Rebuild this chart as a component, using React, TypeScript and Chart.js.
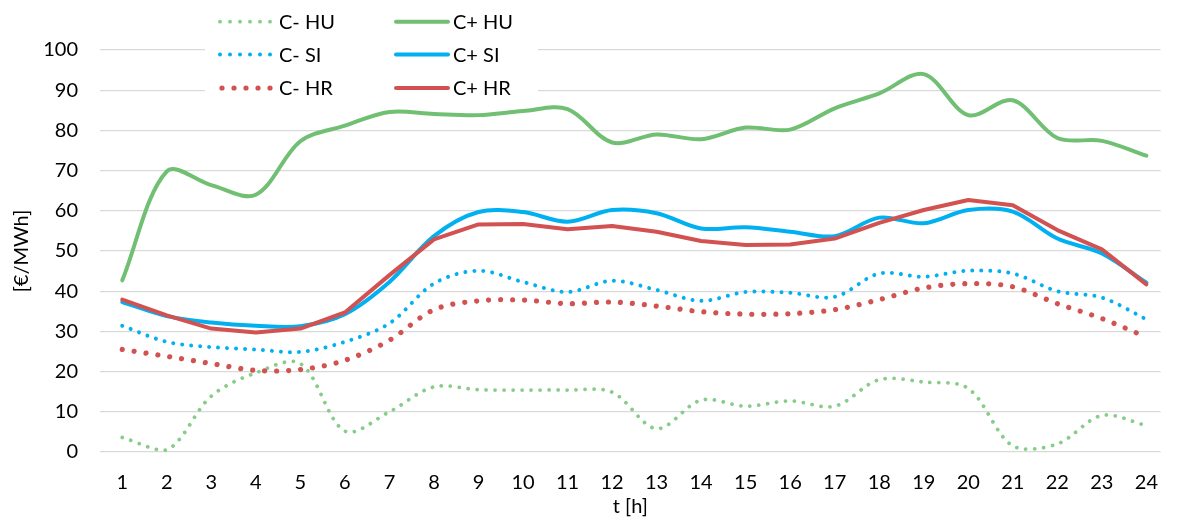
import React, { useEffect, useRef } from "react";
import { Chart, registerables } from "chart.js";

Chart.register(...registerables);

// ---- data ----
const hours = [1, 2, 3, 4, 5, 6, 7, 8, 9, 10, 11, 12, 13, 14, 15, 16, 17, 18, 19, 20, 21, 22, 23, 24];
const xTickLabels = ["1", "2", "3", "4", "5", "6", "7", "8", "9", "10", "11", "12", "13", "14", "15", "16", "17", "18", "19", "20", "21", "22", "23", "24"];

const cMinusHU = [3.6, 0.5, 13.9, 19.7, 22.0, 5.2, 10.0, 16.2, 15.5, 15.4, 15.4, 14.9, 5.8, 12.9, 11.4, 12.7, 11.4, 18.0, 17.4, 15.8, 1.5, 2.0, 9.1, 6.6];
const cPlusHU = [42.7, 69.8, 66.4, 64.0, 77.3, 81.2, 84.6, 84.1, 83.8, 84.8, 85.3, 77.0, 79.0, 77.8, 80.7, 80.2, 85.5, 89.2, 94.0, 83.8, 87.5, 78.1, 77.4, 73.7];
const cMinusSI = [31.4, 27.4, 26.1, 25.5, 24.9, 27.4, 32.0, 41.9, 45.1, 42.3, 39.8, 42.6, 40.3, 37.6, 39.8, 39.6, 38.6, 44.4, 43.6, 45.1, 44.4, 40.0, 38.4, 33.0];
const cPlusSI = [37.3, 33.8, 32.2, 31.4, 31.3, 34.3, 42.3, 53.7, 59.7, 59.7, 57.3, 60.2, 59.4, 55.6, 55.9, 54.8, 53.7, 58.3, 56.9, 60.2, 59.8, 53.1, 49.4, 42.1];
const cMinusHR = [25.5, 23.8, 22.0, 20.3, 20.5, 22.8, 27.8, 35.4, 37.6, 37.8, 36.9, 37.3, 36.3, 34.9, 34.3, 34.4, 35.4, 37.9, 40.8, 41.9, 41.1, 36.9, 33.2, 28.6];
const cPlusHR = [37.9, 34.0, 30.7, 29.7, 30.7, 34.7, 44.0, 52.9, 56.6, 56.7, 55.4, 56.2, 54.8, 52.5, 51.5, 51.6, 53.1, 57.0, 60.2, 62.7, 61.4, 55.2, 50.4, 41.7];

const seriesLabels = ["C- HU", "C+ HU", "C- SI", "C+ SI", "C- HR", "C+ HR"];

const GREEN = "#70bf73";
const GREEN_DOT = "#88cc8a";
const BLUE = "#00b0f0";
const RED = "#d25252";
const FONT = "Lato, 'Open Sans', sans-serif";
const SMOOTH = 0.33;

const toPoints = (vals: number[]) => vals.map((v, i) => ({ x: hours[i], y: v }));

const legendPlugin = {
  id: "gridLegend",
  afterDraw(chart: any) {
    const ctx = chart.ctx as CanvasRenderingContext2D;
    const ds = chart.data.datasets as any[];
    const byLabel = (l: string) => ds.find((d) => d.label === l);
    ctx.save();
    ctx.fillStyle = "#ffffff";
    ctx.fillRect(205, 0, 333, 104);
    const rowsY = [21.7, 54.5, 88];
    const cols = [
      { labels: ["C- HU", "C- SI", "C- HR"], x0: 220, x1: 270, tx: 279 },
      { labels: ["C+ HU", "C+ SI", "C+ HR"], x0: 396, x1: 448, tx: 453 },
    ];
    cols.forEach((c) => {
      c.labels.forEach((lab, r) => {
        const d = byLabel(lab);
        if (!d) return;
        const y = rowsY[r];
        ctx.beginPath();
        ctx.strokeStyle = d.borderColor;
        ctx.lineWidth = d.borderWidth;
        ctx.lineCap = "round";
        const dash = d.borderDash && d.borderDash.length ? [0.001, d.legendGap || d.borderDash[1]] : [];
        ctx.setLineDash(dash);
        ctx.moveTo(c.x0 + (d.legendStart || 0), y);
        ctx.lineTo(c.x1 + 0.01, y);
        ctx.stroke();
        ctx.setLineDash([]);
        ctx.fillStyle = "#000";
        ctx.font = `20px ${FONT}`;
        ctx.textBaseline = "middle";
        ctx.textAlign = "left";
        ctx.fillText(lab, c.tx, y + 1);
      });
    });
    ctx.restore();
  },
};

export default function App() {
  const ref = useRef<HTMLCanvasElement | null>(null);

  useEffect(() => {
    if (!ref.current) return;
    const chart = new Chart(ref.current, {
      type: "line",
      data: {
        datasets: [
          { label: seriesLabels[5], data: toPoints(cPlusHR), borderColor: RED, borderWidth: 4, tension: 0, borderCapStyle: "round", borderJoinStyle: "round" } as any,
          { label: seriesLabels[4], data: toPoints(cMinusHR), borderColor: RED, borderWidth: 5.2, tension: SMOOTH, borderDash: [0.001, 12], borderCapStyle: "round", legendGap: 12, legendStart: 2 } as any,
          { label: seriesLabels[3], data: toPoints(cPlusSI), borderColor: BLUE, borderWidth: 4, tension: SMOOTH, borderCapStyle: "round" } as any,
          { label: seriesLabels[2], data: toPoints(cMinusSI), borderColor: BLUE, borderWidth: 4, tension: SMOOTH, borderDash: [0.001, 9], borderCapStyle: "round", legendGap: 10 } as any,
          { label: seriesLabels[1], data: toPoints(cPlusHU), borderColor: GREEN, borderWidth: 4, tension: SMOOTH, borderCapStyle: "round" } as any,
          { label: seriesLabels[0], data: toPoints(cMinusHU), borderColor: GREEN_DOT, borderWidth: 3.8, tension: SMOOTH, borderDash: [0.001, 9], borderCapStyle: "round", legendGap: 10 } as any,
        ],
      },
      options: {
        responsive: false,
        animation: false,
        layout: { padding: { top: 50, left: 0, right: 0, bottom: 0 } },
        elements: { point: { radius: 0, hoverRadius: 0 } },
        plugins: { legend: { display: false }, tooltip: { enabled: false } },
        scales: {
          x: {
            type: "linear",
            min: 0.5,
            max: 24.32,
            afterBuildTicks: (scale: any) => {
              scale.ticks = hours.map((h) => ({ value: h }));
            },
            afterFit: (scale: any) => {
              scale.height = 68;
            },
            grid: { display: false, drawTicks: false },
            border: { display: false },
            ticks: {
              padding: 19,
              maxRotation: 0,
              autoSkip: false,
              color: "#000",
              font: { family: FONT, size: 20 },
              callback: (v: any) => {
                const i = hours.indexOf(Number(v));
                return i >= 0 ? xTickLabels[i] : "";
              },
            },
            title: { display: true, text: "t [h]", color: "#000", font: { family: FONT, size: 20 }, padding: { top: 0, bottom: 1 } },
          },
          y: {
            min: 0,
            max: 100,
            afterFit: (scale: any) => {
              scale.width = 100;
            },
            grid: { color: "#d9d9d9", lineWidth: 1.3, drawTicks: false },
            border: { display: false },
            ticks: { stepSize: 10, padding: 22, color: "#000", font: { family: FONT, size: 20 } },
            title: { display: true, text: "[€/MWh]", color: "#000", font: { family: FONT, size: 20 }, padding: { top: 10, bottom: 0 } },
          },
        },
      },
      plugins: [legendPlugin],
    });
    return () => chart.destroy();
  }, []);

  return (
    <div style={{ position: "fixed", left: 0, top: 0, width: 1177, height: 520, background: "#fff" }}>
      <canvas ref={ref} width={1177} height={520} />
    </div>
  );
}
